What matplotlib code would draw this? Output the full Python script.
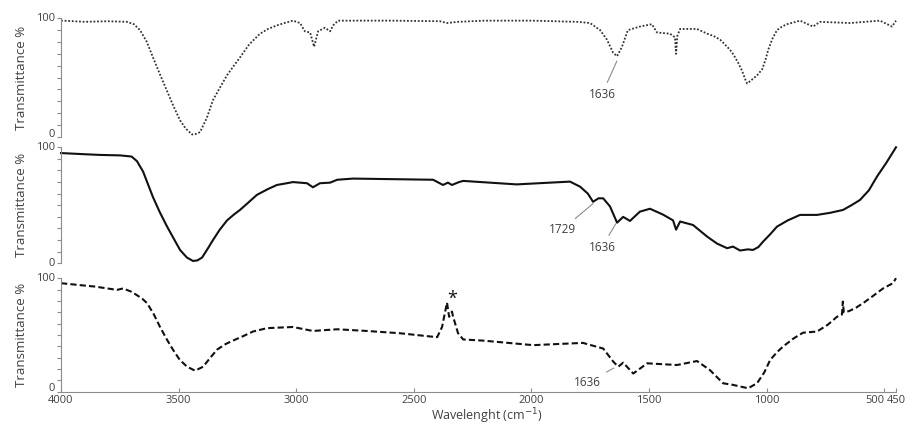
import matplotlib
matplotlib.use("Agg")
from matplotlib import pyplot as plt

# --- spectrum 1 (dotted, top) ---
wn_top = [4000, 3991, 3900, 3800, 3720, 3690, 3664, 3635, 3609, 3580, 3550, 3520, 3494,
          3470, 3443, 3425, 3409, 3380, 3354, 3320, 3294, 3265, 3239, 3200, 3154, 3120,
          3082, 3050, 3014, 2984, 2963, 2941, 2924, 2907, 2878, 2856, 2843, 2822,
          2600, 2389, 2359, 2312, 2200, 2000, 1806, 1751, 1708, 1679, 1653, 1636, 1615,
          1590, 1539, 1488, 1466, 1411, 1390, 1385, 1380, 1368, 1296, 1253, 1225, 1198,
          1168, 1150, 1134, 1120, 1105, 1090, 1083, 1070, 1058, 1040, 1019, 1005, 994,
          975, 956, 935, 913, 858, 803, 773, 646, 518, 467, 450]
t_top = [98, 98, 97, 97.5, 97, 95, 90, 80, 67, 53, 39, 25, 14,
         7, 2, 2.5, 4, 16, 31, 43, 52, 60, 67, 78, 87, 91,
         94, 96, 98, 96, 89, 88, 76, 89, 92, 89, 94, 98,
         98, 97.5, 96, 97, 98, 98, 97, 96, 90, 82, 71, 68, 76,
         90, 93, 95, 88, 87, 84, 70, 85, 91, 91, 87, 85, 82,
         76, 72, 67, 62, 56, 48, 45, 47, 49, 52, 57, 65, 73,
         83, 90, 93, 95, 98, 93, 97, 96, 98, 93, 98]

# --- spectrum 2 (solid, middle) ---
wn_mid = [4000, 3900, 3834, 3749, 3700, 3677, 3651, 3630, 3609, 3580, 3550, 3520, 3494,
          3465, 3439, 3420, 3400, 3375, 3354, 3325, 3294, 3265, 3239, 3200, 3167, 3120,
          3082, 3040, 3014, 2954, 2929, 2899, 2856, 2826, 2758, 2418, 2376, 2355,
          2338, 2308, 2290, 2063, 1836, 1793, 1760, 1738, 1715, 1695, 1666, 1636, 1610,
          1581, 1539, 1496, 1441, 1398, 1385, 1368, 1313, 1253, 1211, 1168, 1143, 1113,
          1080, 1058, 1035, 1015, 985, 956, 910, 858, 786, 730, 675, 640, 603, 565,
          531, 490, 450]
t_mid = [95, 94, 93.4, 93, 92, 88, 79, 68, 57, 44, 32, 21, 11.5,
         5, 2, 2.5, 5, 13, 20, 29, 37, 42, 46, 53, 59, 64,
         67.5, 69, 70, 69, 65.5, 69, 69.5, 72, 73, 72, 67.5, 69.5,
         67.5, 70, 71, 68, 70.4, 66, 60, 53, 56, 56, 49, 35, 40,
         36.5, 44.5, 47, 42, 37, 29, 36, 33, 23, 17, 13, 14.4, 11,
         12, 11.5, 14, 18.7, 25, 31.6, 37, 41.7, 41.7, 43.5, 46, 50, 54.6, 63,
         74.7, 87, 100]

# --- spectrum 3 (dashed, bottom) ---
wn_bot = [4000, 3900, 3855, 3762, 3736, 3700, 3677, 3655, 3634, 3605, 3579, 3550, 3524,
          3495, 3464, 3430, 3396, 3365, 3337, 3300, 3269, 3225, 3184, 3124, 3014, 2929,
          2826, 2699, 2559, 2401, 2380, 2359, 2350, 2338, 2333, 2312, 2290, 2205, 1993,
          1781, 1695, 1652, 1631, 1610, 1567, 1508, 1381, 1296, 1241, 1185, 1143, 1079,
          1041, 1010, 985, 955, 929, 885, 845, 786, 740, 701, 680, 676, 672, 650, 620,
          590, 550, 505, 463, 450]
t_bot = [95.6, 93.5, 92.6, 89.7, 91, 88, 85, 82, 78, 68, 57, 46, 37,
         28, 22, 18.5, 22, 30, 37, 42, 45, 49, 53, 56, 57, 53.5,
         55, 53.5, 51.5, 48, 57, 78.5, 66, 70.6, 66, 51.5, 46, 45, 41,
         43, 38, 26.5, 22, 25.6, 16, 25, 23.5, 27, 19, 7.4, 6, 3,
         7.4, 17, 28, 35, 40, 47, 52, 53, 59, 66, 68, 79.4, 70, 71, 74,
         78, 84, 91, 95.6, 100]

xticks = [4000, 3500, 3000, 2500, 2000, 1500, 1000, 500, 450]

plt.rcParams["font.family"] = ["Open Sans", "DejaVu Sans"]
txt = "#404040"
spine = "#8c8c8c"

fig = plt.figure(figsize=(9.08, 4.25), dpi=100)
left, width = 0.0672, 0.9196
ax1 = fig.add_axes([left, 0.678, width, 0.279])
ax2 = fig.add_axes([left, 0.3805, width, 0.273])
ax3 = fig.add_axes([left, 0.0784, width, 0.267])

ax1.plot(wn_top, t_top, ls=(0, (1, 1)), lw=1.3, color="#333333", clip_on=False)
ax2.plot(wn_mid, t_mid, ls="-", lw=1.5, color="#111111", clip_on=False)
ax3.plot(wn_bot, t_bot, ls=(0, (3, 1.5)), lw=1.5, color="#111111", clip_on=False)

# vertical nudge (points) of the "0" / "100" labels, per panel
nudge = {ax1: (1.5, 0), ax2: (0, 0), ax3: (2.5, 0)}

for ax in (ax1, ax2, ax3):
    ax.set_xlim(4000, 450)
    ax.set_ylim(0, 100)
    for s in ("top", "right", "bottom"):
        ax.spines[s].set_visible(False)
    ax.spines["left"].set_color(spine)
    ax.set_yticks(range(0, 101, 10))
    ax.set_yticklabels([])
    ax.tick_params(axis="y", length=3, color=spine)
    for val, dy in zip((0, 100), nudge[ax]):
        ax.annotate(str(val), xy=(0, val), xycoords=ax.get_yaxis_transform(),
                    xytext=(-4.5, dy), textcoords="offset points",
                    ha="right", va="center", fontsize=8, color=txt)
    ax.set_ylabel("Transmittance %", fontsize=9.5, color=txt, labelpad=17)
    ax.patch.set_alpha(0)

for ax in (ax1, ax2):
    ax.set_xticks([])

ax3.spines["bottom"].set_visible(True)
ax3.spines["bottom"].set_color(spine)
ax3.set_xticks(xticks)
ax3.set_xticklabels([str(v) for v in xticks])
ax3.tick_params(axis="x", direction="in", length=3, color=spine,
                labelsize=8, labelcolor=txt, pad=2.5)
ax3.set_xlabel("Wavelenght (cm$^{-1}$)", fontsize=9, color=txt)
ax3.xaxis.set_label_coords(0.51, -0.128)
lbls = ax3.get_xticklabels()
lbls[-2].set_ha("right")
lbls[-1].set_ha("center")

arrow = dict(arrowstyle="-", color="#8c8c8c", lw=0.8)
ax1.annotate("1636", xy=(1632, 66), xytext=(1700, 36), fontsize=8.5, color=txt,
             ha="center", va="center", arrowprops=arrow)
ax2.annotate("1729", xy=(1729, 53), xytext=(1870, 29), fontsize=8.5, color=txt,
             ha="center", va="center", arrowprops=arrow)
ax2.annotate("1636", xy=(1636, 36), xytext=(1700, 14), fontsize=8.5, color=txt,
             ha="center", va="center", arrowprops=arrow)
ax3.annotate("1636", xy=(1640, 22), xytext=(1760, 8), fontsize=8.5, color=txt,
             ha="center", va="center", arrowprops=arrow)
ax3.text(2336, 82, "*", fontsize=13, color="#111111", ha="center", va="center")

fig.savefig("out.png", dpi=100)
